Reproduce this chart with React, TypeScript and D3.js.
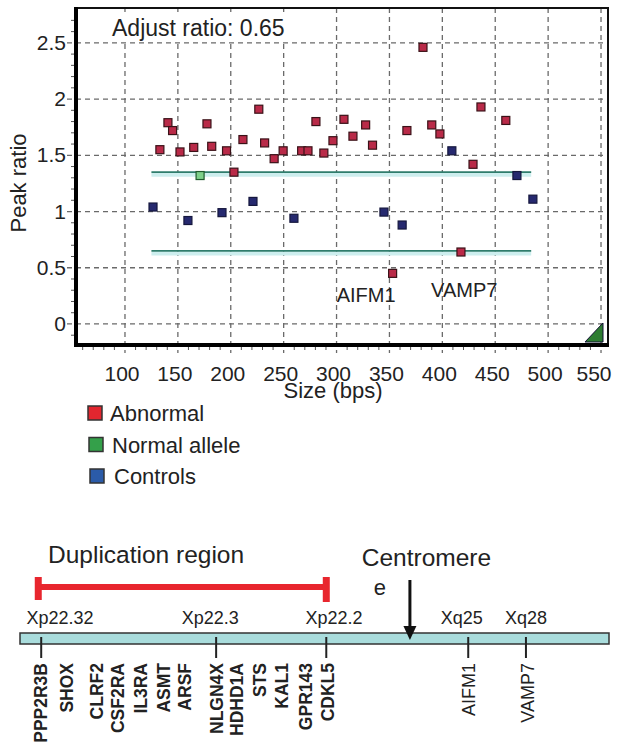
import React from "react";
import { scaleLinear, range } from "d3";

// peak ratio plot
const abnormalSize = [133, 140.6, 145, 152, 165, 177.5, 182, 196, 203, 211.5, 226.5, 232, 241, 249.5, 267, 273, 280.5, 288, 296.6, 307, 315.5, 327.5, 334, 353, 366.5, 381.7, 390, 397.7, 417.6, 429, 436.5, 460];
const abnormalRatio = [1.55, 1.79, 1.72, 1.53, 1.57, 1.78, 1.58, 1.54, 1.35, 1.64, 1.91, 1.61, 1.47, 1.54, 1.54, 1.54, 1.8, 1.52, 1.63, 1.82, 1.67, 1.77, 1.59, 0.45, 1.72, 2.46, 1.77, 1.69, 0.64, 1.42, 1.93, 1.81];
const normalSize = [171];
const normalRatio = [1.32];
const controlSize = [126.5, 159.5, 191.7, 221, 259.7, 344.8, 362, 409, 470.5, 485.6];
const controlRatio = [1.04, 0.92, 0.99, 1.09, 0.94, 0.995, 0.88, 1.54, 1.32, 1.11];
const thresholds = [0.65, 1.35];
const thresholdSpan = [125, 484];
const xTicks = [100, 150, 200, 250, 300, 350, 400, 450, 500, 550];
const yTicks = [0, 0.5, 1, 1.5, 2, 2.5];
// callout labels for the two deleted probes (label anchor in data units)
const calloutNames = ["AIFM1", "VAMP7"];
const calloutSize = [328, 420.7];
const calloutRatio = [0.196, 0.24];
const legendItems = ["Abnormal", "Normal allele", "Controls"];
const legendColors = ["#e2262f", "#34a04a", "#2b5ba8"];

// chromosome map (position along the X chromosome, % of bar length)
const bandNames = ["Xp22.32", "Xp22.3", "Xp22.2", "Xq25", "Xq28"];
const bandPos = [6.8, 32.3, 53.3, 75.0, 85.9];
const tickPos = [3.6, 33.3, 52.0, 76.1, 85.9];
const genes = ["PPP2R3B", "SHOX", "CLRF2", "CSF2RA", "IL3RA", "ASMT", "ARSF", "NLGN4X", "HDHD1A", "STS", "KAL1", "GPR143", "CDKL5", "AIFM1", "VAMP7"];
const genePos = [3.5, 7.9, 13.0, 16.6, 20.4, 24.3, 28.0, 33.3, 36.8, 40.7, 44.4, 48.4, 52.2, 76.2, 86.2];
const geneBold = [true, true, true, true, true, true, true, true, true, true, true, true, true, false, false];
const duplication = [3.1, 52.0];
const centromere = 66.2;

const FONT = "'Liberation Sans', Arial, sans-serif";

export default function App() {
  const left = 76, top = 8, right = 608, bottom = 345;
  const x = scaleLinear().domain([53.7, 556.6]).range([left, right]);
  const y = scaleLinear().domain([-0.187, 2.81]).range([bottom, top]);
  const cx = scaleLinear().domain([0, 100]).range([20, 609]);

  const minorX = range(60, 560, 10).filter((v) => v % 50 !== 0);
  const minorY = range(-0.1, 2.8, 0.1).map((v) => Math.round(v * 10) / 10).filter((v) => Math.round(v * 10) % 5 !== 0);
  const sq = 8;

  const square = (sx, sy, fill, stroke, key) => (
    <rect key={key} x={x(sx) - sq / 2} y={y(sy) - sq / 2} width={sq} height={sq} fill={fill} stroke={stroke} strokeWidth={1.2} />
  );

  return (
    <svg width={617} height={750} style={{ position: "absolute", left: 0, top: 0, fontFamily: FONT }}>
      <rect width={617} height={750} fill="#fff" />
      {/* grid */}
      <g stroke="#6a6a6a" strokeWidth={1.3} strokeDasharray="5,4">
        {xTicks.map((t) => (
          <line key={t} x1={x(t)} x2={x(t)} y1={top} y2={bottom + 8} />
        ))}
        {yTicks.map((t) => (
          <line key={t} x1={left - 9} x2={right} y1={y(t)} y2={y(t)} />
        ))}
      </g>
      {/* minor ticks */}
      <g stroke="#555" strokeWidth={1}>
        {minorX.map((t) => (
          <line key={t} x1={x(t)} x2={x(t)} y1={bottom} y2={bottom + 5} />
        ))}
        {minorY.map((t) => (
          <line key={t} x1={left - 5} x2={left} y1={y(t)} y2={y(t)} />
        ))}
      </g>
      {/* threshold lines */}
      {thresholds.map((t) => (
        <g key={t}>
          <line x1={x(thresholdSpan[0])} x2={x(thresholdSpan[1])} y1={y(t) + 2.5} y2={y(t) + 2.5} stroke="#cdeeee" strokeWidth={4} />
          <line x1={x(thresholdSpan[0])} x2={x(thresholdSpan[1])} y1={y(t)} y2={y(t)} stroke="#2f7d6c" strokeWidth={1.6} />
        </g>
      ))}
      {/* title box */}
      <rect x={left + 2} y={top + 4} width={214} height={28} fill="#fff" />
      <text x={112} y={36} fontSize={23} fill="#222">Adjust ratio: 0.65</text>
      {/* frame */}
      <rect x={left} y={top} width={right - left} height={bottom - top} fill="none" stroke="#111" strokeWidth={2} />
      <line x1={left} x2={left} y1={top - 1} y2={bottom + 2} stroke="#000" strokeWidth={4} />
      <line x1={left - 2} x2={right + 1} y1={bottom} y2={bottom} stroke="#000" strokeWidth={4} />
      {/* points */}
      {abnormalSize.map((s, i) => square(s, abnormalRatio[i], "#b92a48", "#3a1218", "a" + i))}
      {normalSize.map((s, i) => square(s, normalRatio[i], "#7ed08a", "#1f5a2c", "n" + i))}
      {controlSize.map((s, i) => square(s, controlRatio[i], "#26296f", "#15173d", "c" + i))}
      {/* corner triangle */}
      <path d={`M${right - 23},${bottom - 3} L${right - 5},${bottom - 3} L${right - 5},${bottom - 22} Z`} fill="#2e7d32" stroke="#113" strokeWidth={1} />
      {/* labels */}
      {calloutNames.map((g, i) => (
        <text key={g} x={x(calloutSize[i])} y={y(calloutRatio[i])} fontSize={20} textAnchor="middle" fill="#222">
          {g}
        </text>
      ))}
      {yTicks.map((t) => (
        <text key={t} x={66} y={y(t) + 7} fontSize={21} textAnchor="end" fill="#222">
          {t}
        </text>
      ))}
      {xTicks.map((t) => (
        <text key={t} x={Math.min(x(t) - 3, 594)} y={381} fontSize={21} textAnchor="middle" fill="#222">
          {t}
        </text>
      ))}
      <text x={333} y={398} fontSize={22} textAnchor="middle" fill="#222">Size (bps)</text>
      <text transform="translate(26,183) rotate(-90)" fontSize={22} textAnchor="middle" fill="#222">Peak ratio</text>
      {/* legend */}
      {legendItems.map((name, i) => (
        <g key={name} transform={`translate(${88 + i}, ${406 + i * 31.5})`}>
          <rect width={14} height={14} fill={legendColors[i]} stroke="#333" strokeWidth={1.5} />
          <text x={22 + i} y={15} fontSize={22} fill="#222">{name}</text>
        </g>
      ))}

      {/* chromosome map */}
      <text x={48} y={563} fontSize={24.5} fill="#222">Duplication region</text>
      <g stroke="#e8262e" strokeWidth={6}>
        <line x1={cx(duplication[0])} x2={cx(duplication[1])} y1={587} y2={587} />
        <line x1={cx(duplication[0])} x2={cx(duplication[0])} y1={577} y2={600} strokeWidth={7} />
        <line x1={cx(duplication[1])} x2={cx(duplication[1])} y1={577} y2={602} strokeWidth={7} />
      </g>
      <text x={cx(69.0)} y={566} fontSize={24.5} textAnchor="middle" fill="#222">Centromere</text>
      <text x={cx(61.1)} y={595} fontSize={22} textAnchor="middle" fill="#222">e</text>
      {bandNames.map((b, i) => (
        <text key={b} x={cx(bandPos[i])} y={624} fontSize={18} textAnchor="middle" fill="#222">
          {b}
        </text>
      ))}
      <rect x={cx(0)} y={633} width={cx(100) - cx(0)} height={11} fill="#a9dcdc" stroke="#333" strokeWidth={1.5} />
      <line x1={cx(centromere)} x2={cx(centromere)} y1={580} y2={628} stroke="#111" strokeWidth={3} />
      <path d={`M${cx(centromere) - 6.5},${626} L${cx(centromere) + 6.5},${626} L${cx(centromere)},${640} Z`} fill="#111" />
      {tickPos.map((p) => (
        <line key={p} x1={cx(p)} x2={cx(p)} y1={637} y2={658} stroke="#222" strokeWidth={2} />
      ))}
      {genes.map((g, i) => (
        <text
          key={g}
          transform={`translate(${cx(genePos[i]) + 6.5},663) rotate(-90)`}
          fontSize={geneBold[i] ? 17.5 : 18}
          fontWeight={geneBold[i] ? "bold" : "normal"}
          textAnchor="end"
          fill="#222"
        >
          {g}
        </text>
      ))}
    </svg>
  );
}
